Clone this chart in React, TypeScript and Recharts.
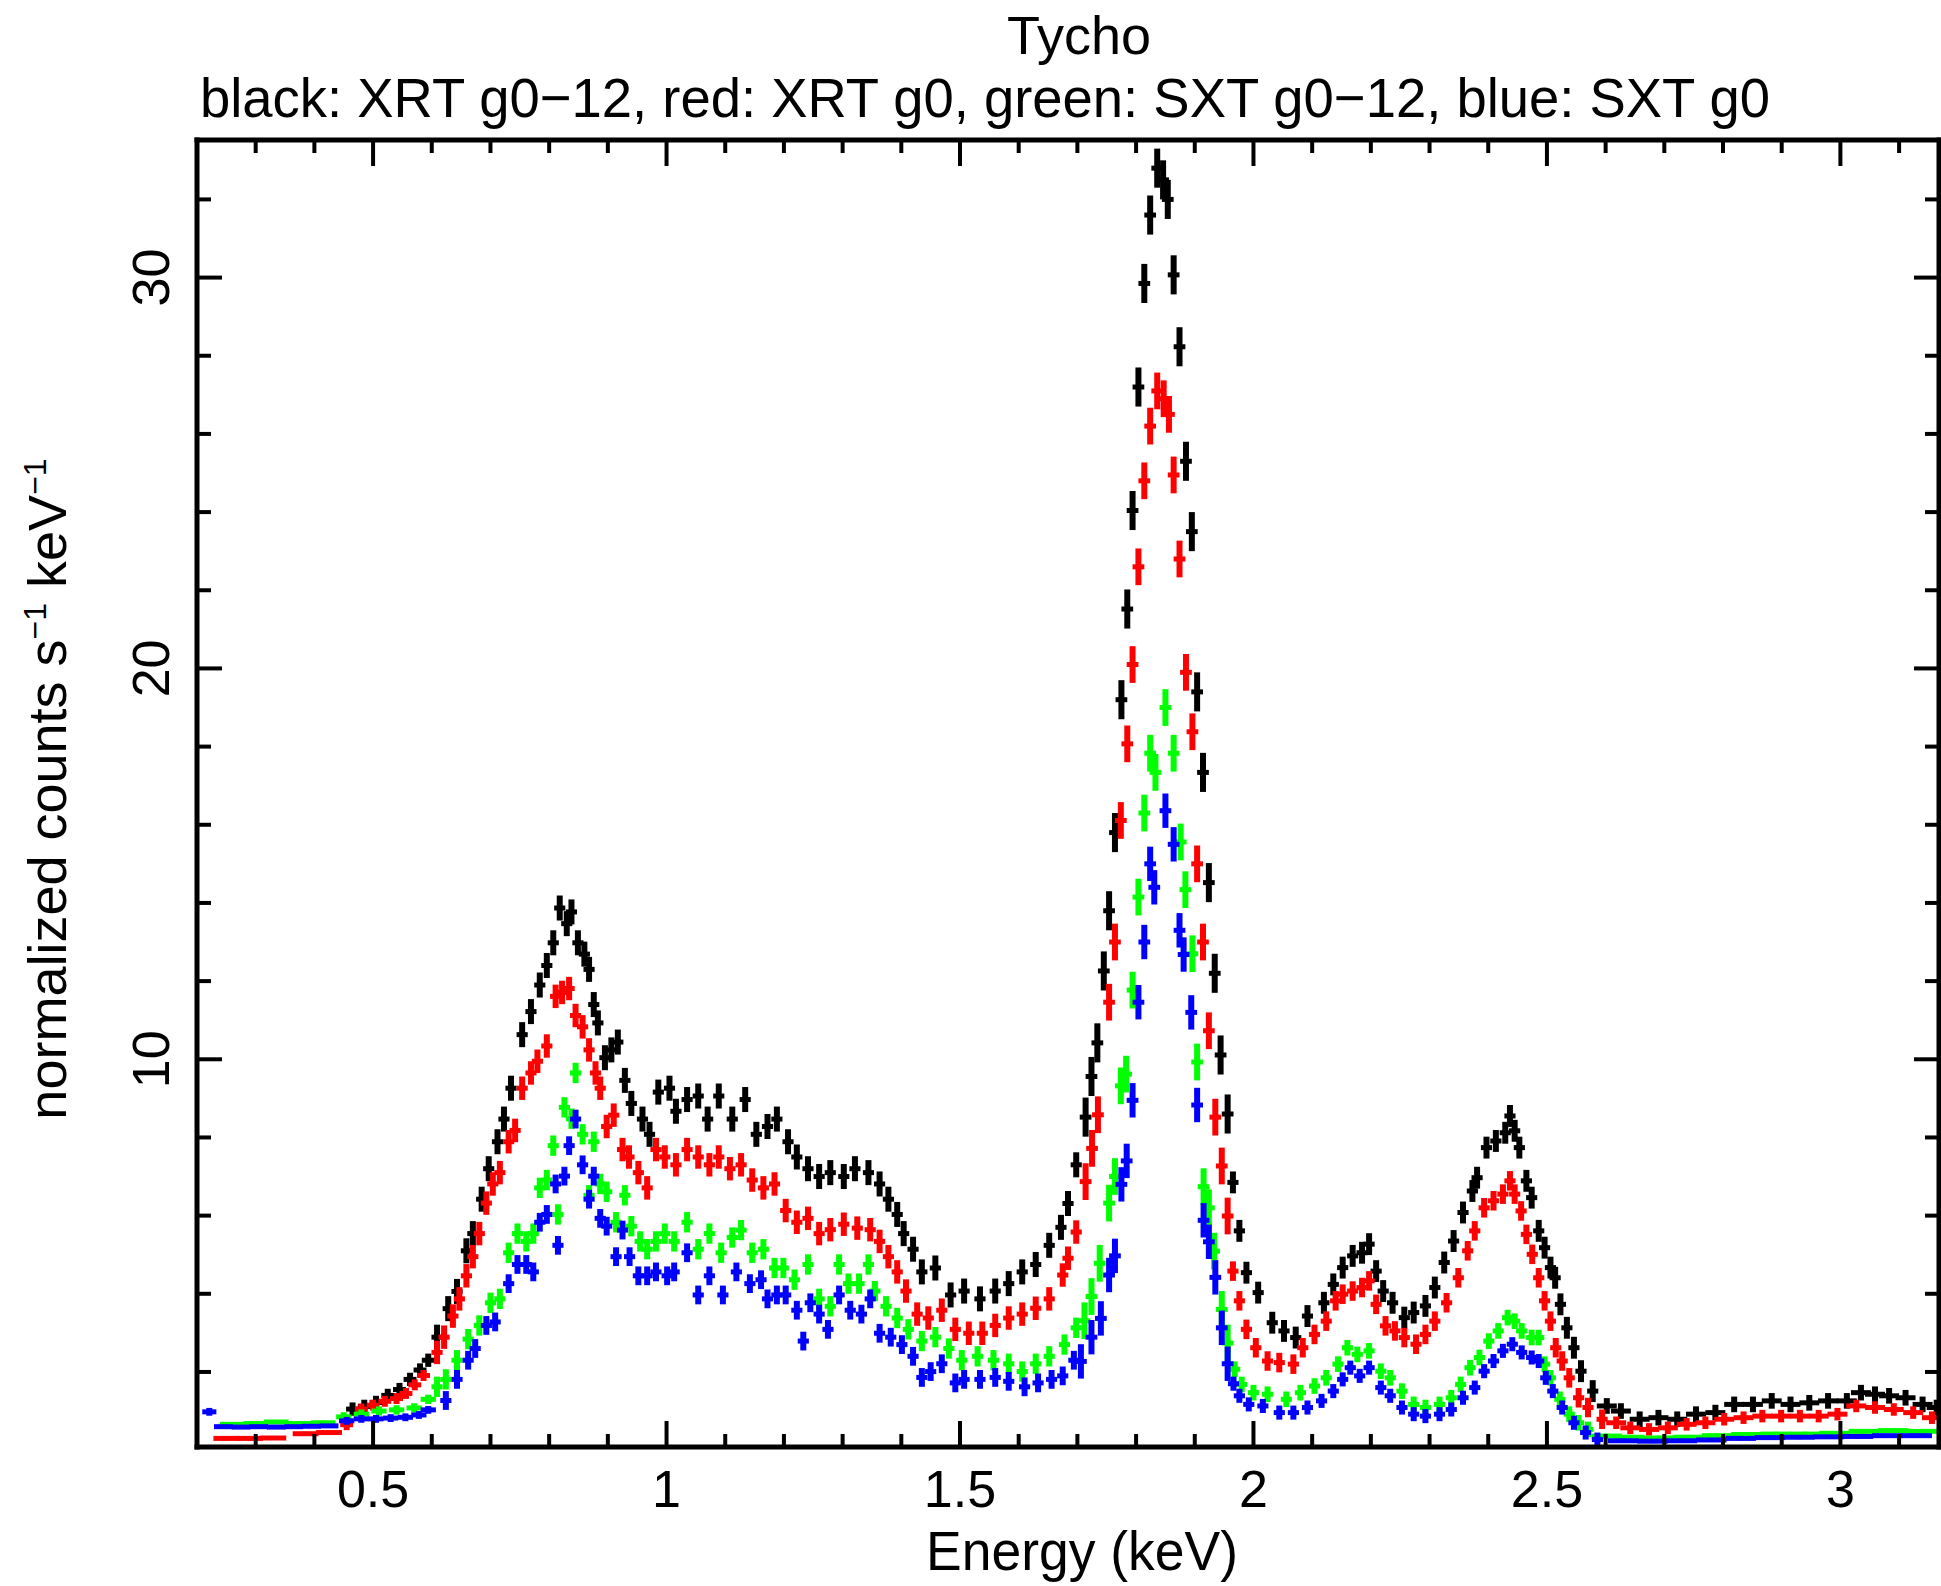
import React from "react";
import { ScatterChart, Scatter, XAxis, YAxis, ErrorBar } from "recharts";

const W = 1941;
const H = 1586;
const FONT = "'Liberation Sans', Arial, sans-serif";

// axis ticks
const xTicks = [0.2, 0.3, 0.4, 0.5, 0.6, 0.7, 0.8, 0.9, 1, 1.1, 1.2, 1.3, 1.4, 1.5, 1.6, 1.7, 1.8, 1.9, 2, 2.1, 2.2, 2.3, 2.4, 2.5, 2.6, 2.7, 2.8, 2.9, 3, 3.1];
const xLabelTicks = [0.5, 1, 1.5, 2, 2.5, 3];
const yTicks = [2, 4, 6, 8, 10, 12, 14, 16, 18, 20, 22, 24, 26, 28, 30, 32];
const yLabelTicks = [10, 20, 30];

// [energy keV, normalized counts]
const xrtAll: [number, number][] = [
  [0.465, 1.05], [0.485, 1.12], [0.505, 1.22], [0.525, 1.4], [0.545, 1.55], [0.563, 1.81], [0.58, 2.05], [0.594, 2.3],
  [0.609, 2.89], [0.628, 3.62], [0.643, 4.06], [0.659, 5.1], [0.67, 5.54], [0.685, 6.42], [0.697, 7.2], [0.712, 7.89],
  [0.723, 8.47], [0.735, 9.26], [0.754, 10.63], [0.769, 11.22], [0.784, 11.9], [0.796, 12.4], [0.807, 12.98], [0.818, 13.87],
  [0.83, 13.47], [0.838, 13.77], [0.849, 12.98], [0.86, 12.69], [0.868, 12.3], [0.876, 11.4], [0.883, 10.93], [0.895, 10.04],
  [0.906, 10.24], [0.917, 10.44], [0.929, 9.46], [0.94, 8.87], [0.959, 8.47], [0.971, 8.08], [0.986, 9.16], [1.005, 9.26],
  [1.016, 8.67], [1.035, 8.97], [1.054, 9.06], [1.07, 8.47], [1.089, 9.06], [1.112, 8.47], [1.134, 8.97], [1.153, 8.08],
  [1.172, 8.28], [1.188, 8.47], [1.207, 7.89], [1.222, 7.5], [1.241, 7.2], [1.26, 7.0], [1.279, 7.1], [1.302, 7.0],
  [1.321, 7.2], [1.344, 7.1], [1.363, 6.81], [1.378, 6.42], [1.393, 6.03], [1.404, 5.54], [1.42, 5.14], [1.435, 4.56],
  [1.458, 4.66], [1.484, 3.97], [1.507, 4.07], [1.534, 3.87], [1.56, 4.07], [1.583, 4.26], [1.606, 4.56], [1.629, 4.75],
  [1.652, 5.24], [1.672, 5.7], [1.684, 6.31], [1.698, 7.3], [1.714, 8.52], [1.724, 9.56], [1.734, 10.42], [1.745, 12.26],
  [1.754, 13.8], [1.764, 15.8], [1.775, 19.2], [1.785, 21.52], [1.794, 24.04], [1.804, 27.2], [1.814, 29.85], [1.824, 31.6],
  [1.836, 32.8], [1.846, 32.5], [1.854, 32.0], [1.864, 30.07], [1.874, 28.23], [1.885, 25.3], [1.895, 23.5], [1.904, 19.4],
  [1.914, 17.34], [1.924, 14.52], [1.934, 12.2], [1.944, 10.11], [1.956, 8.6], [1.965, 6.85], [1.976, 5.61], [1.988, 4.54],
  [2.008, 4.03], [2.032, 3.26], [2.052, 3.05], [2.072, 2.88], [2.092, 3.43], [2.12, 3.77], [2.136, 4.24], [2.152, 4.67],
  [2.169, 4.97], [2.185, 5.05], [2.197, 5.27], [2.209, 4.58], [2.221, 4.07], [2.237, 3.77], [2.257, 3.39], [2.273, 3.52],
  [2.293, 3.69], [2.309, 4.16], [2.325, 4.8], [2.341, 5.35], [2.357, 6.08], [2.373, 6.63], [2.381, 6.97], [2.397, 7.74],
  [2.413, 7.91], [2.429, 8.12], [2.437, 8.55], [2.445, 8.17], [2.453, 7.74], [2.465, 6.89], [2.474, 6.46], [2.486, 5.61],
  [2.496, 5.18], [2.506, 4.67], [2.514, 4.41], [2.523, 3.73], [2.534, 3.13], [2.546, 2.62], [2.558, 2.02], [2.578, 1.51],
  [2.602, 1.13], [2.626, 1.0], [2.658, 0.79], [2.69, 0.83], [2.722, 0.79], [2.754, 0.92], [2.787, 0.96], [2.819, 1.17],
  [2.851, 1.17], [2.883, 1.26], [2.915, 1.17], [2.947, 1.21], [2.979, 1.26], [3.011, 1.26], [3.035, 1.47], [3.059, 1.43],
  [3.083, 1.39], [3.111, 1.34], [3.14, 1.17], [3.164, 1.09],
];

const xrtG0: [number, number][] = [
  [0.25, 0.3], [0.29, 0.3], [0.33, 0.31], [0.385, 0.42], [0.425, 0.45], [0.455, 0.65], [0.48, 1.05], [0.5, 1.15],
  [0.52, 1.25], [0.54, 1.32], [0.556, 1.45], [0.571, 1.67], [0.586, 1.91], [0.609, 2.5], [0.621, 2.89], [0.636, 3.43],
  [0.647, 3.87], [0.659, 4.46], [0.67, 4.95], [0.681, 5.54], [0.693, 6.32], [0.704, 6.81], [0.716, 7.1], [0.731, 7.89],
  [0.742, 8.18], [0.754, 9.26], [0.769, 9.65], [0.78, 9.95], [0.796, 10.34], [0.811, 11.61], [0.822, 11.71], [0.834, 11.81],
  [0.845, 11.12], [0.857, 10.83], [0.868, 10.24], [0.879, 9.65], [0.887, 9.26], [0.898, 8.28], [0.91, 8.57], [0.925, 7.69],
  [0.936, 7.5], [0.952, 7.1], [0.967, 6.71], [0.982, 7.69], [0.997, 7.5], [1.016, 7.3], [1.035, 7.69], [1.054, 7.5],
  [1.073, 7.3], [1.089, 7.5], [1.108, 7.2], [1.127, 7.3], [1.146, 6.91], [1.165, 6.71], [1.184, 6.81], [1.203, 6.13],
  [1.222, 5.83], [1.241, 5.93], [1.26, 5.54], [1.279, 5.64], [1.302, 5.78], [1.325, 5.68], [1.347, 5.64], [1.363, 5.34],
  [1.378, 4.95], [1.393, 4.56], [1.408, 4.07], [1.427, 3.48], [1.446, 3.38], [1.469, 3.58], [1.492, 3.09], [1.515, 2.99],
  [1.538, 2.99], [1.56, 3.19], [1.583, 3.38], [1.606, 3.48], [1.629, 3.63], [1.652, 3.87], [1.675, 4.48], [1.684, 4.91],
  [1.698, 5.58], [1.714, 6.87], [1.725, 7.72], [1.735, 8.58], [1.754, 11.46], [1.764, 13.0], [1.774, 16.11], [1.785, 18.07],
  [1.794, 20.1], [1.804, 22.6], [1.814, 24.8], [1.824, 26.2], [1.836, 27.1], [1.847, 26.9], [1.856, 26.5], [1.864, 24.95],
  [1.874, 22.8], [1.885, 19.9], [1.896, 18.38], [1.904, 15.0], [1.914, 13.0], [1.924, 10.73], [1.935, 8.52], [1.946, 7.27],
  [1.956, 5.99], [1.965, 4.58], [1.976, 3.82], [1.988, 3.09], [2.004, 2.62], [2.024, 2.28], [2.044, 2.24], [2.068, 2.2],
  [2.084, 2.62], [2.104, 2.96], [2.124, 3.3], [2.14, 3.82], [2.152, 3.99], [2.169, 4.07], [2.185, 4.16], [2.197, 4.33],
  [2.209, 3.73], [2.225, 3.18], [2.241, 3.05], [2.257, 2.88], [2.277, 2.71], [2.293, 2.96], [2.309, 3.3], [2.329, 3.77],
  [2.349, 4.41], [2.365, 5.1], [2.377, 5.61], [2.393, 6.2], [2.409, 6.38], [2.425, 6.55], [2.437, 6.89], [2.445, 6.55],
  [2.456, 6.12], [2.465, 5.52], [2.475, 5.01], [2.486, 4.41], [2.496, 3.82], [2.506, 3.3], [2.515, 2.62], [2.526, 2.28],
  [2.538, 1.85], [2.554, 1.34], [2.57, 1.09], [2.594, 0.79], [2.618, 0.7], [2.642, 0.57], [2.674, 0.53], [2.706, 0.57],
  [2.738, 0.66], [2.77, 0.7], [2.802, 0.79], [2.835, 0.83], [2.867, 0.87], [2.899, 0.87], [2.931, 0.87], [2.963, 0.87],
  [2.995, 0.92], [3.027, 1.13], [3.059, 1.09], [3.091, 1.04], [3.124, 0.96], [3.156, 0.83],
];

const sxtAll: [number, number][] = [
  [0.26, 0.66], [0.3, 0.68], [0.335, 0.72], [0.375, 0.68], [0.415, 0.7], [0.45, 0.85], [0.48, 0.92], [0.51, 1.0],
  [0.54, 1.03], [0.57, 1.08], [0.594, 1.3], [0.609, 1.62], [0.624, 1.81], [0.643, 2.3], [0.662, 2.84], [0.681, 3.19],
  [0.7, 3.77], [0.716, 3.87], [0.731, 5.05], [0.746, 5.54], [0.761, 5.34], [0.773, 5.54], [0.784, 6.71], [0.796, 6.91],
  [0.807, 7.79], [0.815, 6.03], [0.826, 8.77], [0.838, 8.48], [0.845, 9.65], [0.857, 8.08], [0.868, 6.52], [0.876, 7.89],
  [0.887, 6.81], [0.898, 6.61], [0.914, 5.83], [0.929, 6.52], [0.94, 5.73], [0.955, 5.34], [0.967, 5.14], [0.982, 5.34],
  [0.997, 5.54], [1.013, 5.34], [1.035, 5.83], [1.054, 5.14], [1.073, 5.54], [1.093, 5.05], [1.112, 5.44], [1.127, 5.63],
  [1.146, 5.05], [1.165, 5.14], [1.184, 4.66], [1.199, 4.66], [1.218, 4.36], [1.241, 4.75], [1.26, 3.87], [1.279, 3.68],
  [1.294, 4.75], [1.31, 4.26], [1.328, 4.26], [1.344, 4.75], [1.355, 4.07], [1.374, 3.68], [1.393, 3.38], [1.412, 3.09],
  [1.435, 2.79], [1.458, 2.89], [1.481, 2.6], [1.503, 2.3], [1.53, 2.4], [1.557, 2.3], [1.583, 2.21], [1.606, 2.01],
  [1.629, 2.21], [1.652, 2.4], [1.678, 2.7], [1.698, 3.13], [1.712, 3.31], [1.724, 3.93], [1.738, 4.78], [1.754, 6.32],
  [1.764, 7.0], [1.774, 9.32], [1.783, 9.62], [1.794, 11.77], [1.804, 14.15], [1.814, 16.3], [1.824, 17.83], [1.833, 17.34],
  [1.85, 19.0], [1.864, 17.83], [1.876, 15.56], [1.884, 14.34], [1.896, 12.7], [1.904, 9.93], [1.915, 6.74], [1.924, 6.2],
  [1.933, 5.09], [1.946, 3.6], [1.956, 2.74], [1.968, 2.07], [1.98, 1.68], [2.0, 1.47], [2.024, 1.43], [2.056, 1.3],
  [2.08, 1.47], [2.104, 1.64], [2.124, 1.85], [2.144, 2.2], [2.16, 2.62], [2.177, 2.45], [2.197, 2.54], [2.217, 2.02],
  [2.233, 1.85], [2.253, 1.51], [2.273, 1.17], [2.293, 1.09], [2.317, 1.17], [2.337, 1.34], [2.353, 1.68], [2.369, 2.11],
  [2.385, 2.37], [2.401, 2.79], [2.417, 3.05], [2.433, 3.39], [2.445, 3.3], [2.457, 3.05], [2.474, 2.88], [2.486, 2.88],
  [2.496, 2.2], [2.506, 1.85], [2.522, 1.3], [2.538, 0.92], [2.554, 0.7], [2.57, 0.53], [2.602, 0.36], [2.64, 0.33],
  [2.69, 0.31], [2.74, 0.33], [2.79, 0.37], [2.84, 0.4], [2.89, 0.41], [2.94, 0.41], [2.99, 0.43], [3.04, 0.48],
  [3.09, 0.5], [3.14, 0.48],
];

const sxtG0: [number, number][] = [
  [0.221, 0.98], [0.245, 0.6], [0.275, 0.59], [0.305, 0.6], [0.335, 0.59], [0.365, 0.6], [0.395, 0.61], [0.425, 0.62],
  [0.455, 0.75], [0.48, 0.8], [0.505, 0.8], [0.53, 0.82], [0.555, 0.84], [0.578, 0.9], [0.594, 1.03], [0.624, 1.27],
  [0.643, 1.81], [0.662, 2.3], [0.674, 2.6], [0.693, 3.19], [0.708, 3.28], [0.731, 4.26], [0.746, 4.75], [0.761, 4.75],
  [0.773, 4.56], [0.784, 5.83], [0.796, 6.03], [0.811, 6.81], [0.815, 5.24], [0.826, 7.01], [0.834, 7.79], [0.845, 8.47],
  [0.857, 7.3], [0.868, 6.42], [0.876, 7.01], [0.887, 5.93], [0.898, 5.73], [0.914, 4.95], [0.925, 5.63], [0.937, 4.95],
  [0.952, 4.46], [0.967, 4.46], [0.982, 4.56], [1.001, 4.46], [1.013, 4.56], [1.035, 5.05], [1.054, 3.97], [1.073, 4.46],
  [1.096, 3.97], [1.119, 4.56], [1.142, 4.26], [1.161, 4.36], [1.172, 3.87], [1.188, 3.97], [1.203, 3.97], [1.222, 3.58],
  [1.233, 2.79], [1.245, 3.77], [1.26, 3.48], [1.275, 3.09], [1.294, 3.97], [1.313, 3.58], [1.332, 3.48], [1.347, 3.87],
  [1.363, 2.99], [1.382, 2.89], [1.401, 2.7], [1.42, 2.4], [1.435, 1.86], [1.45, 2.01], [1.469, 2.21], [1.492, 1.72],
  [1.507, 1.81], [1.534, 1.81], [1.56, 1.86], [1.583, 1.76], [1.61, 1.62], [1.633, 1.72], [1.656, 1.81], [1.675, 1.9],
  [1.694, 2.3], [1.706, 2.27], [1.724, 2.89], [1.74, 3.37], [1.754, 4.48], [1.764, 4.97], [1.775, 6.8], [1.784, 7.4],
  [1.794, 8.95], [1.804, 11.46], [1.814, 13.0], [1.824, 15.0], [1.831, 14.4], [1.85, 16.36], [1.864, 15.5], [1.874, 13.3],
  [1.881, 12.68], [1.894, 11.2], [1.904, 8.83], [1.915, 5.88], [1.924, 5.33], [1.935, 4.42], [1.946, 3.13], [1.956, 2.21],
  [1.966, 1.7], [1.976, 1.39], [1.992, 1.17], [2.016, 1.13], [2.044, 0.96], [2.068, 0.96], [2.092, 1.09], [2.116, 1.26],
  [2.136, 1.51], [2.152, 1.81], [2.165, 2.11], [2.181, 1.9], [2.197, 2.11], [2.217, 1.6], [2.233, 1.39], [2.253, 1.09],
  [2.273, 0.92], [2.293, 0.87], [2.317, 0.92], [2.337, 1.04], [2.357, 1.34], [2.377, 1.6], [2.393, 2.02], [2.409, 2.28],
  [2.425, 2.54], [2.441, 2.71], [2.457, 2.5], [2.474, 2.37], [2.486, 2.28], [2.498, 1.85], [2.51, 1.51], [2.526, 1.09],
  [2.546, 0.7], [2.566, 0.45], [2.586, 0.27], [2.63, 0.24], [2.68, 0.23], [2.73, 0.24], [2.78, 0.26], [2.83, 0.3],
  [2.88, 0.32], [2.93, 0.33], [2.98, 0.34], [3.03, 0.35], [3.08, 0.37], [3.13, 0.37],
];

// [upper energy of range, half bin width keV, 1-sigma error]
const xrtAllBins: [number, number, number][] = [[0.6, 0.011, 0.17], [1.7, 0.0095, 0.32], [1.96, 0.01, 0.5], [2.6, 0.0095, 0.28], [3.2, 0.017, 0.2]];
const xrtG0Bins: [number, number, number][] = [[0.44, 0.022, 0.05], [0.6, 0.011, 0.14], [1.7, 0.0095, 0.3], [1.96, 0.01, 0.47], [2.6, 0.0095, 0.25], [3.2, 0.017, 0.16]];
const sxtAllBins: [number, number, number][] = [[0.44, 0.021, 0.05], [0.6, 0.013, 0.12], [1.7, 0.0095, 0.26], [1.96, 0.01, 0.47], [2.6, 0.0095, 0.2], [3.2, 0.026, 0.06]];
const sxtG0Bins: [number, number, number][] = [[0.232, 0.012, 0.1], [0.44, 0.016, 0.04], [0.6, 0.013, 0.1], [1.7, 0.0095, 0.24], [1.96, 0.01, 0.44], [2.6, 0.0095, 0.18], [3.2, 0.026, 0.05]];

const toRows = (pts: [number, number][], bins: [number, number, number][]) =>
  pts.map(([e, v]) => {
    const b = bins.find((r) => e <= r[0]) || bins[bins.length - 1];
    return { x: e, y: v, dx: b[1], dy: b[2] };
  });

const series = [
  { name: "XRT g0-12", color: "#000000", rows: toRows(xrtAll, xrtAllBins) },
  { name: "XRT g0", color: "#ff0000", rows: toRows(xrtG0, xrtG0Bins) },
  { name: "SXT g0-12", color: "#00ff00", rows: toRows(sxtAll, sxtAllBins) },
  { name: "SXT g0", color: "#0000ff", rows: toRows(sxtG0, sxtG0Bins) },
];

const TICK = { stroke: "#000", strokeWidth: 4 };
const FRAME = { stroke: "#000", strokeWidth: 5, strokeLinecap: "square" as const };

const BottomTick = (props: any) => {
  const { x, y, payload } = props;
  const major = xLabelTicks.includes(payload.value);
  return (
    <g>
      <line x1={x} x2={x} y1={y} y2={y - (major ? 26 : 13)} {...TICK} />
      {major && (
        <text x={x} y={y + 60} textAnchor="middle" fontSize={52} fontFamily={FONT} fill="#000">
          {payload.value}
        </text>
      )}
    </g>
  );
};

const TopTick = (props: any) => {
  const { x, y, payload } = props;
  const major = xLabelTicks.includes(payload.value);
  return <line x1={x} x2={x} y1={y} y2={y + (major ? 26 : 13)} {...TICK} />;
};

const LeftTick = (props: any) => {
  const { x, y, payload } = props;
  const major = yLabelTicks.includes(payload.value);
  return (
    <g>
      <line x1={x} x2={x + (major ? 25 : 14)} y1={y} y2={y} {...TICK} />
      {major && (
        <g transform={`translate(${x - 28} ${y}) rotate(-90)`}>
          <text x={0} y={0} textAnchor="middle" fontSize={52} fontFamily={FONT} fill="#000">
            {payload.value}
          </text>
        </g>
      )}
    </g>
  );
};

const RightTick = (props: any) => {
  const { x, y, payload } = props;
  const major = yLabelTicks.includes(payload.value);
  return <line x1={x} x2={x - (major ? 25 : 14)} y1={y} y2={y} {...TICK} />;
};

const noDot = () => <g />;

export default function App() {
  return (
    <div style={{ position: "absolute", left: 0, top: 0, width: W, height: H, background: "#fff" }}>
      <ScatterChart width={W} height={H} margin={{ top: 139, right: 1, bottom: 0, left: 0 }}>
        <XAxis
          xAxisId="top"
          orientation="top"
          type="number"
          dataKey="x"
          domain={[0.2, 3.168]}
          allowDataOverflow
          ticks={xTicks}
          interval={0}
          height={1}
          tickSize={0}
          tickMargin={0}
          tickLine={false}
          axisLine={FRAME}
          tick={<TopTick />}
        />
        <XAxis
          type="number"
          dataKey="x"
          domain={[0.2, 3.168]}
          allowDataOverflow
          ticks={xTicks}
          interval={0}
          height={139}
          tickSize={0}
          tickMargin={0}
          tickLine={false}
          axisLine={FRAME}
          tick={<BottomTick />}
        />
        <YAxis
          type="number"
          dataKey="y"
          domain={[0.08, 33.52]}
          allowDataOverflow
          ticks={yTicks}
          interval={0}
          width={197}
          tickSize={0}
          tickMargin={0}
          tickLine={false}
          axisLine={FRAME}
          tick={<LeftTick />}
        />
        <YAxis
          yAxisId="right"
          orientation="right"
          type="number"
          dataKey="y"
          domain={[0.08, 33.52]}
          allowDataOverflow
          ticks={yTicks}
          interval={0}
          width={1}
          tickSize={0}
          tickMargin={0}
          tickLine={false}
          axisLine={FRAME}
          tick={<RightTick />}
        />
        {/* invisible series so the top and right frame axes have data bound */}
        <Scatter xAxisId="top" yAxisId="right" data={series[0].rows} shape={noDot} isAnimationActive={false} />
        {series.map((s) => (
          <Scatter key={s.name} name={s.name} data={s.rows} shape={noDot} isAnimationActive={false}>
            <ErrorBar dataKey="dx" direction="x" width={0} stroke={s.color} strokeWidth={5} isAnimationActive={false} />
            <ErrorBar dataKey="dy" direction="y" width={0} stroke={s.color} strokeWidth={6} isAnimationActive={false} />
          </Scatter>
        ))}
      </ScatterChart>
      <svg width={W} height={H} style={{ position: "absolute", left: 0, top: 0, pointerEvents: "none" }}>
        <text x={1079} y={54} textAnchor="middle" fontSize={54} fontFamily={FONT} fill="#000">
          Tycho
        </text>
        <text x={200} y={117} fontSize={56} fontFamily={FONT} fill="#000" textLength={1570} lengthAdjust="spacingAndGlyphs">
          black: XRT g0−12, red: XRT g0, green: SXT g0−12, blue: SXT g0
        </text>
        <text x={1082} y={1570} textAnchor="middle" fontSize={55} fontFamily={FONT} fill="#000" textLength={312} lengthAdjust="spacingAndGlyphs">
          Energy (keV)
        </text>
        <g transform="translate(66 789) rotate(-90)">
          <text x={0} y={0} textAnchor="middle" fontSize={54} fontFamily={FONT} fill="#000">
            normalized counts s
            <tspan dy={-20} fontSize={32}>−1</tspan>
            <tspan dy={20}> keV</tspan>
            <tspan dy={-20} fontSize={32}>−1</tspan>
          </text>
        </g>
      </svg>
    </div>
  );
}
